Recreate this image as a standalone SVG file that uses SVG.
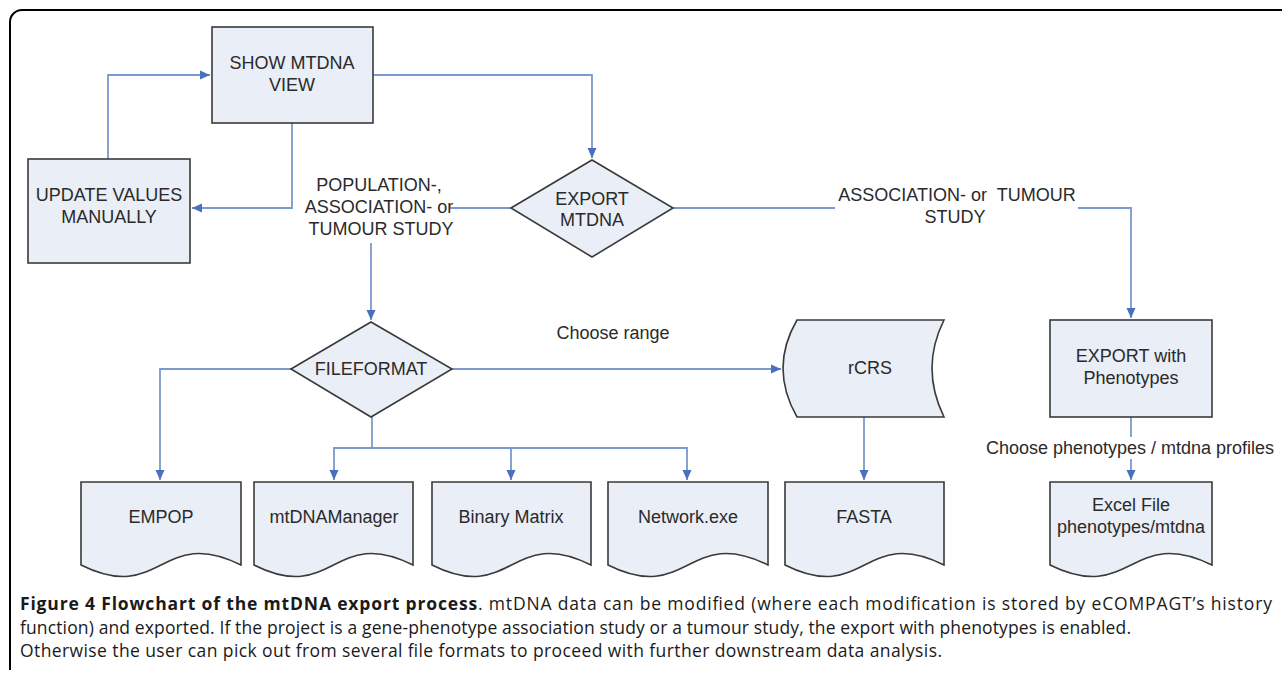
<svg xmlns="http://www.w3.org/2000/svg" width="1282" height="673" viewBox="0 0 1282 673">
<defs>
<marker id="arr" markerWidth="10" markerHeight="10" refX="10" refY="5" orient="auto" markerUnits="userSpaceOnUse">
<path d="M0,0.5 L10,5 L0,9.5 z" fill="#4a6fbf"/>
</marker>
<style>
.shape{fill:#e9eef7;stroke:#3a3a3a;stroke-width:1.6}
.t{font-family:"Liberation Sans",Arial,sans-serif;font-size:18px;fill:#2a2a2a;text-anchor:middle}
.c{fill:none;stroke:#7d98cc;stroke-width:1.8}
.cap{font-family:"Open Sans","Noto Sans",sans-serif;font-size:17.5px;fill:#1a1a1a}
</style>
</defs>
<rect width="1282" height="673" fill="#ffffff"/>
<path d="M1282,10 H22 A12,12 0 0 0 10,22 V670" fill="none" stroke="#000" stroke-width="2"/>

<g id="connectors">
<path class="c" d="M108,159 V75 H210" marker-end="url(#arr)"/>
<path class="c" d="M292,123 V208 H192" marker-end="url(#arr)"/>
<path class="c" d="M373,75 H592 V158" marker-end="url(#arr)"/>
<path class="c" d="M511,208 H449"/>
<path class="c" d="M371,243 V320" marker-end="url(#arr)"/>
<path class="c" d="M673,208 H835"/>
<path class="c" d="M1078,208 H1131 V318" marker-end="url(#arr)"/>
<path class="c" d="M291,369 H160 V480" marker-end="url(#arr)"/>
<path class="c" d="M452,369 H781" marker-end="url(#arr)"/>
<path class="c" d="M372,417 V448"/>
<path class="c" d="M372,448 H334 V480" marker-end="url(#arr)"/>
<path class="c" d="M372,448 H511 V480" marker-end="url(#arr)"/>
<path class="c" d="M511,448 H687 V480" marker-end="url(#arr)"/>
<path class="c" d="M864,417 V480" marker-end="url(#arr)"/>
<path class="c" d="M1131,417 V437"/>
<path class="c" d="M1131,459 V480" marker-end="url(#arr)"/>
</g>

<g id="labels">
<text class="t" x="379" y="191">POPULATION-,</text>
<text class="t" x="379" y="213">ASSOCIATION- or</text>
<text class="t" x="381" y="235">TUMOUR STUDY</text>
<text class="t" x="957" y="201" xml:space="preserve">ASSOCIATION- or  TUMOUR</text>
<text class="t" x="955" y="223">STUDY</text>
<text class="t" x="613" y="339">Choose range</text>
<text class="t" x="1130" y="454">Choose phenotypes / mtdna profiles</text>
</g>

<g id="show-mtdna-view">
<rect class="shape" x="212" y="27" width="161" height="96"/>
<text class="t" x="292" y="69">SHOW MTDNA</text>
<text class="t" x="292" y="91">VIEW</text>
</g>

<g id="update-values">
<rect class="shape" x="28" y="159" width="162" height="104"/>
<text class="t" x="109" y="201">UPDATE VALUES</text>
<text class="t" x="109" y="223">MANUALLY</text>
</g>

<g id="export-mtdna">
<path class="shape" d="M511,208 L592,160 L673,208 L592,257 Z"/>
<text class="t" x="592" y="205">EXPORT</text>
<text class="t" x="592" y="226">MTDNA</text>
</g>

<g id="fileformat">
<path class="shape" d="M291,369 L371,322 L452,369 L371,417 Z"/>
<text class="t" x="371" y="375">FILEFORMAT</text>
</g>

<g id="rcrs">
<path class="shape" d="M797,320 H944 Q920,368 944,417 H797 Q769,368 797,320 Z"/>
<text class="t" x="870" y="374">rCRS</text>
</g>

<g id="export-phenotypes">
<rect class="shape" x="1050" y="320" width="162" height="97"/>
<text class="t" x="1131" y="362">EXPORT with</text>
<text class="t" x="1131" y="384">Phenotypes</text>
</g>

<g id="empop">
<path class="shape" d="M81,482 H241 V565 C161,525 161,605 81,565 Z"/>
<text class="t" x="161" y="523">EMPOP</text>
</g>
<g id="mtdnamanager">
<path class="shape" d="M254,482 H413 V565 C333.5,525 333.5,605 254,565 Z"/>
<text class="t" x="334" y="523">mtDNAManager</text>
</g>
<g id="binary-matrix">
<path class="shape" d="M432,482 H591 V565 C511.5,525 511.5,605 432,565 Z"/>
<text class="t" x="511" y="523">Binary Matrix</text>
</g>
<g id="network-exe">
<path class="shape" d="M608,482 H768 V565 C688,525 688,605 608,565 Z"/>
<text class="t" x="688" y="523">Network.exe</text>
</g>
<g id="fasta">
<path class="shape" d="M785,482 H944 V565 C864.5,525 864.5,605 785,565 Z"/>
<text class="t" x="864" y="523">FASTA</text>
</g>
<g id="excel-file">
<path class="shape" d="M1050,482 H1212 V565 C1131,525 1131,605 1050,565 Z"/>
<text class="t" x="1131" y="511">Excel File</text>
<text class="t" x="1131" y="533">phenotypes/mtdna</text>
</g>

<g id="caption">
<text class="cap" x="20" y="610" textLength="1252" lengthAdjust="spacing"><tspan font-weight="bold">Figure 4 Flowchart of the mtDNA export process</tspan>. mtDNA data can be modified (where each modification is stored by eCOMPAGT’s history</text>
<text class="cap" x="20" y="634" textLength="1111" lengthAdjust="spacing">function) and exported. If the project is a gene-phenotype association study or a tumour study, the export with phenotypes is enabled.</text>
<text class="cap" x="20" y="657" textLength="922" lengthAdjust="spacing">Otherwise the user can pick out from several file formats to proceed with further downstream data analysis.</text>
</g>
</svg>
